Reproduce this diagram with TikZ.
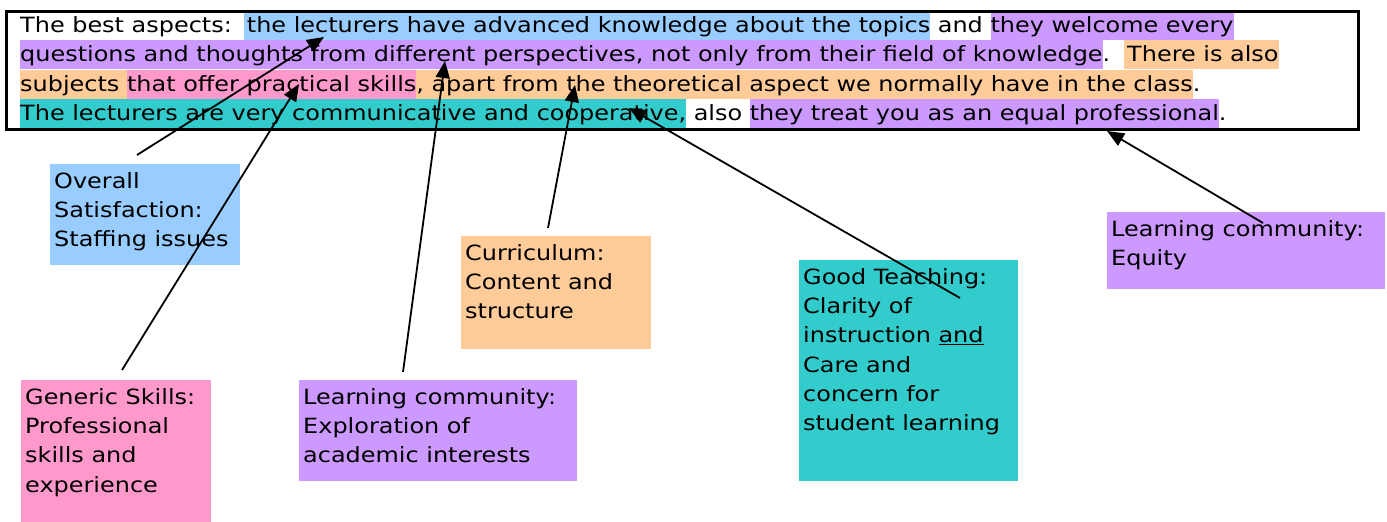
\documentclass[tikz,border=0pt]{standalone}
\usepackage{fontspec}
\setmainfont[FakeStretch=1.14]{DejaVu Sans}
\usetikzlibrary{arrows.meta}
\definecolor{hlblue}{HTML}{99CCFF}
\definecolor{hlpurple}{HTML}{CC99FF}
\definecolor{hlorange}{HTML}{FFCC99}
\definecolor{hlpink}{HTML}{FF99CC}
\definecolor{hlteal}{HTML}{33CCCC}
\newcommand\hlseg[2]{{\setlength{\fboxsep}{0pt}\colorbox{#1}{\rule[-7.5pt]{0pt}{29pt}#2}}}
\newcommand\cbox[3]{\parbox[c][#2pt][t]{#1pt}{\raggedright\rule{0pt}{24pt}#3}}
\tikzset{
  every node/.style={font=\fontsize{21}{29.3}\selectfont},
  textline/.style={anchor=base west, inner sep=0pt},
  callout/.style={anchor=north west, inner xsep=4pt, inner ysep=0pt, fill=#1},
  pointer/.style={line width=1.8pt, -{Triangle[length=17pt,width=14pt]}},
  framebox/.style={draw, line width=2.5pt, anchor=north west, inner sep=0pt}
}
\begin{document}
\begin{tikzpicture}[x=1pt,y=-1pt]
\useasboundingbox (0,0) rectangle (1387,522);
% highlighted text lines
\node[textline] (l1) at (20,32.5) {The best aspects:\hspace{12pt}\hlseg{hlblue}{\hspace{3pt}the lecturers have advanced knowledge about the topics} and \hlseg{hlpurple}{they welcome every}};
\node[textline] (l2) at (20,61.8) {\hlseg{hlpurple}{questions and thoughts from different perspectives, not only from their field of knowledge}.\hspace{14pt}\hlseg{hlorange}{\hspace{3pt}There is also}};
\node[textline] (l3) at (20,91.1) {\hlseg{hlorange}{subjects }\hlseg{hlpink}{that offer practical skills}\hlseg{hlorange}{, apart from the theoretical aspect we normally have in the class}.};
\node[textline] (l4) at (20,120.4) {\hlseg{hlteal}{The lecturers are very communicative and cooperative,} also \hlseg{hlpurple}{they treat you as an equal professional}.};
\node[framebox, minimum width=1352pt, minimum height=118pt] (frame) at (5,10) {};
% callout boxes
\node[callout=hlblue] (ov) at (50,164) {\cbox{182}{101}{Overall\\Satisfaction:\\Staffing issues}};
\node[callout=hlorange] (cu) at (461,236) {\cbox{182}{113}{Curriculum:\\Content and\\structure}};
\node[callout=hlpink] (ge) at (21,380) {\cbox{182}{142}{Generic Skills:\\Professional\\skills and\\experience}};
\node[callout=hlpurple] (le) at (299,380) {\cbox{270}{101}{Learning community:\\Exploration of\\academic interests}};
\node[callout=hlteal] (gt) at (799,260) {\cbox{211}{221}{Good Teaching:\\Clarity of\\instruction \underline{and}\\Care and\\concern for\\student learning}};
\node[callout=hlpurple] (eq) at (1107,212) {\cbox{270}{77}{Learning community:\\Equity}};
% connector end points
\coordinate (s1) at (137,155); \coordinate (t1) at (324,37);
\coordinate (s2) at (122,370); \coordinate (t2) at (299,84);
\coordinate (s3) at (403,372); \coordinate (t3) at (445,61);
\coordinate (s4) at (548,228); \coordinate (t4) at (575,85);
\coordinate (s5) at (960,298); \coordinate (t5) at (629,108);
\coordinate (s6) at (1263,223); \coordinate (t6) at (1107,131);
\draw[pointer] (s1) -- (t1);
\draw[pointer] (s2) -- (t2);
\draw[pointer] (s3) -- (t3);
\draw[pointer] (s4) -- (t4);
\draw[pointer] (s5) -- (t5);
\draw[pointer] (s6) -- (t6);
\end{tikzpicture}
\end{document}
